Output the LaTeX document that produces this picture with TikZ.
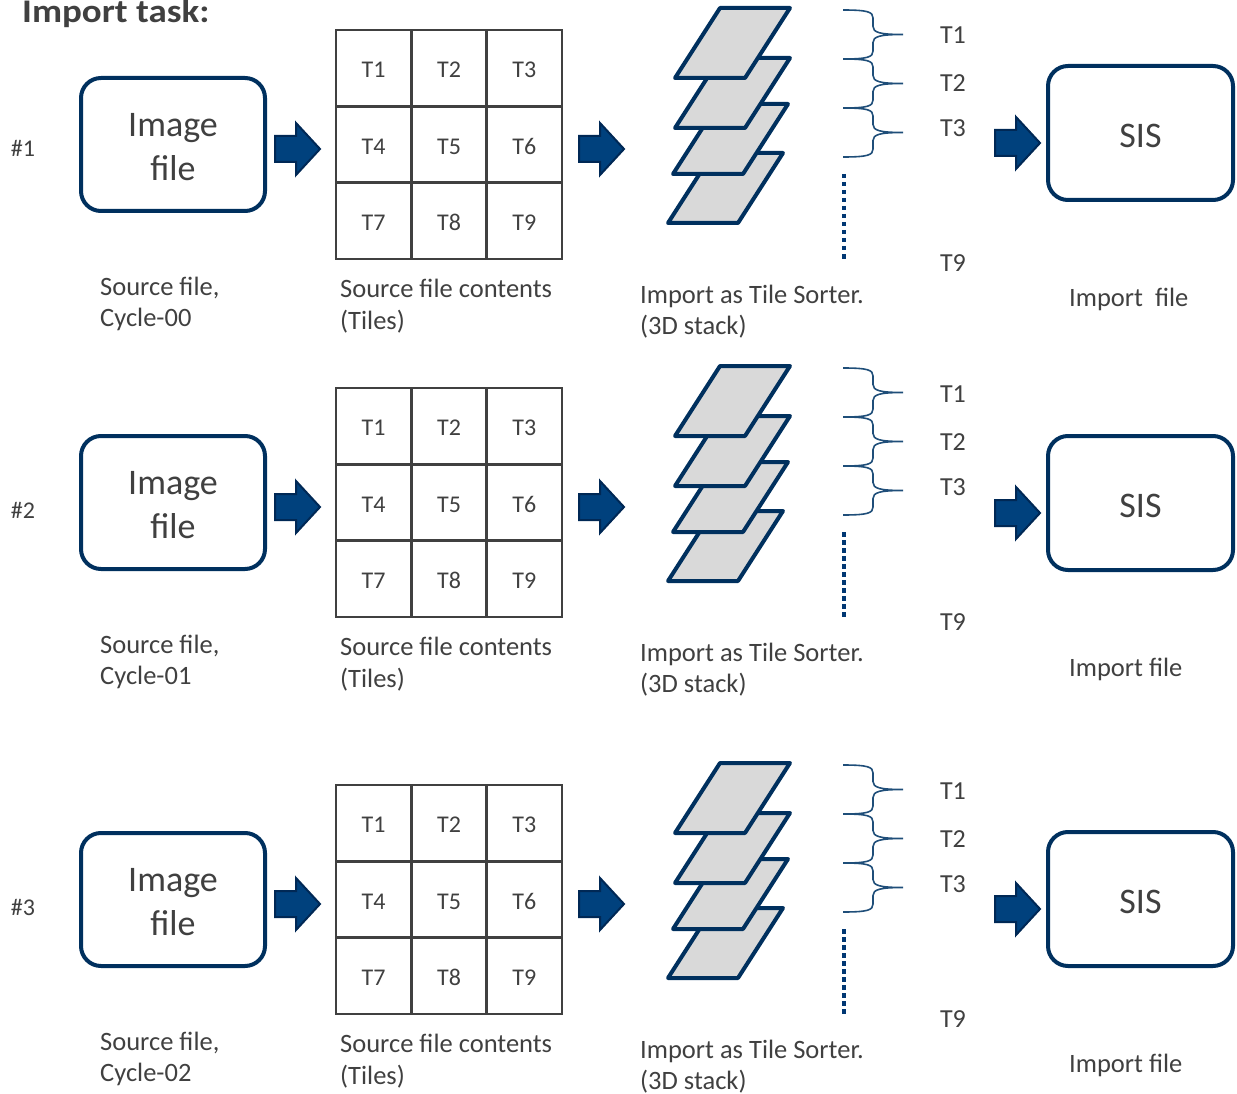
\documentclass[tikz,border=0pt]{standalone}
\usepackage{fontspec}
\setmainfont{Carlito}
\definecolor{navy}{RGB}{0,48,94}
\definecolor{arrowfill}{RGB}{0,65,125}
\definecolor{arrowedge}{RGB}{0,40,85}
\definecolor{txt}{RGB}{64,64,64}
\definecolor{layerfill}{RGB}{217,217,217}
\definecolor{bracecol}{RGB}{31,78,121}
\definecolor{dotcol}{RGB}{0,55,115}
\definecolor{gridcol}{RGB}{64,64,64}
\tikzset{
  bigbox/.style={draw=navy, line width=4pt, rounded corners=20pt, minimum width=184pt, minimum height=133pt, inner sep=0pt, align=center, text=txt, font=\fontsize{36}{44}\selectfont},
  cell/.style={draw=gridcol, line width=2.6pt, minimum width=75.33pt, minimum height=76.33pt, inner sep=0pt, text=txt, font=\fontsize{24}{28}\selectfont},
  caption/.style={anchor=base west, inner sep=0pt, text=txt, font=\fontsize{26.5}{31.5}\selectfont},
  tlabel/.style={anchor=base, inner sep=0pt, text=txt, font=\fontsize{26}{30}\selectfont},
  barrow/.pic={\draw[fill=arrowfill, draw=arrowedge, line width=2pt, line join=miter]
      (0,-13) -- (21,-13) -- (21,-26) -- (45,0) -- (21,26) -- (21,13) -- (0,13) -- cycle;},
  layer/.pic={\draw[fill=layerfill, draw=navy, line width=4pt, line join=round]
      (0,0) -- (70,0) -- (25,70) -- (-45,70) -- cycle;},
  bracepic/.pic={\draw[bracecol, line width=1.6pt]
      (0,0) .. controls (25,0) and (30,2) .. (30,8) -- (30,16.5)
      .. controls (30,22.5) and (37,24.5) .. (60,24.5)
      .. controls (37,24.5) and (30,26.5) .. (30,32.5) -- (30,41)
      .. controls (30,47) and (25,49) .. (0,49);}
}
\begin{document}
\begin{tikzpicture}[x=1pt,y=-1pt]
\useasboundingbox (0,0) rectangle (1237,1094);
\node[anchor=base west, inner sep=0pt, text=txt, font=\bfseries\fontsize{33}{36}\selectfont] (title) at (22,23) {\scalebox{1.12}[1]{Import task:}};
\foreach \r/\s/\h/\n/\c/\f/\iy in {0/0/148/1/00/{Import\ \ file}/306, 358/370/510/2/01/{Import file}/676, 755/766/907/3/02/{Import file}/1072}{
  % row label
  \node[text=txt, inner sep=0pt, font=\fontsize{24}{28}\selectfont] (num\n) at (23,\h) {\#\n};
  % image file box
  \node[bigbox] (img\n) at (173,\r+144.5) {\raisebox{-5.5pt}[\height][\depth]{\begin{tabular}{@{}c@{}}Image\\file\end{tabular}}};
  \node[caption] (src\n a) at (100,\r+295) {Source file,};
  \node[caption] (src\n b) at (100,\r+326) {Cycle-\c};
  % arrow 1
  \pic (arA\n) at (275,\r+149) {barrow};
  % grid of tiles
  \foreach \k in {1,...,9}{
    \pgfmathtruncatemacro{\col}{mod(\k-1,3)}
    \pgfmathtruncatemacro{\row}{int((\k-1)/3)}
    \node[cell] (t\n-\k) at (336+37.67+75.33*\col, \r+30+38.17+76.33*\row) {\raisebox{-2pt}[\height][\depth]{T\k}};
  }
  \node[caption] (con\n a) at (340,\r+297) {Source file contents};
  \node[caption] (con\n b) at (340,\r+329) {(Tiles)};
  % arrow 2
  \pic (arB\n) at (579,\r+149) {barrow};
  % stack of layers
  \pic (lay\n d) at (713,\r+153) {layer};
  \pic (lay\n c) at (718,\r+104) {layer};
  \pic (lay\n b) at (720,\r+58) {layer};
  \pic (lay\n a) at (720,\r+8) {layer};
  \coordinate (dotA\n) at (844,\r+174);
  \coordinate (dotB\n) at (844,\r+262);
  \draw[dotcol, line width=4.5pt, dash pattern=on 4.5pt off 3.5pt] (dotA\n) -- (dotB\n);
  \node[caption] (imp\n a) at (640,\r+303) {Import as Tile Sorter.};
  \node[caption] (imp\n b) at (640,\r+334) {(3D stack)};
  % braces
  \pic (brA\n) at (843,\r+10) {bracepic};
  \pic (brB\n) at (843,\r+59) {bracepic};
  \pic (brC\n) at (843,\r+108) {bracepic};
  \node[tlabel] (lt1\n) at (953,\r+44) {T1};
  \node[tlabel] (lt2\n) at (953,\r+92) {T2};
  \node[tlabel] (lt3\n) at (953,\r+137) {T3};
  \node[tlabel] (lt9\n) at (953,\r+272) {T9};
  % arrow 3 and SIS
  \pic (arC\n) at (995,\s+143) {barrow};
  \node[bigbox, minimum width=185pt, minimum height=134pt] (sis\n) at (1140.5,\s+133) {\raisebox{-3pt}[\height][\depth]{SIS}};
  \node[caption] (out\n) at (1069,\iy) {\f};
}
\end{tikzpicture}
\end{document}
